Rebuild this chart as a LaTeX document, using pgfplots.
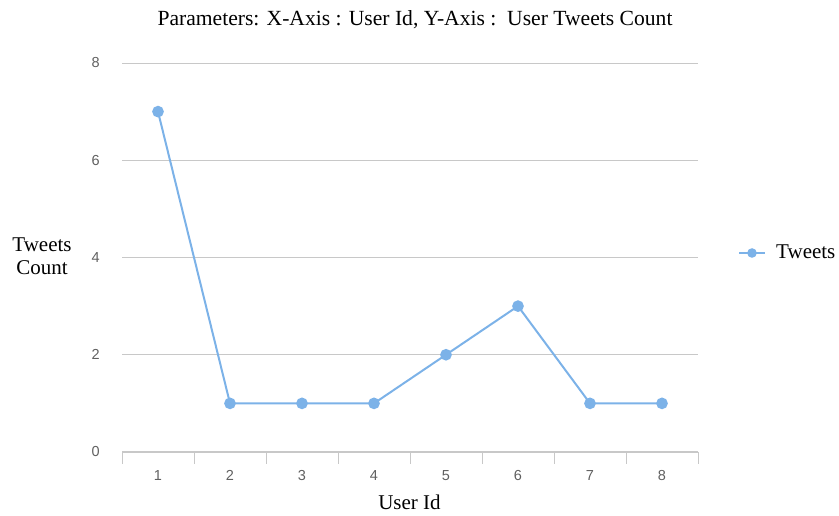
\documentclass[border=0pt]{standalone}
\usepackage{fontspec}
\setmainfont{Liberation Serif}
\newfontfamily\arial{Liberation Sans}
\usepackage{pgfplots}
\pgfplotsset{compat=1.18}
\definecolor{lineblue}{HTML}{7CB2E8}
\definecolor{gridgray}{HTML}{C8C8C8}
\definecolor{ticktext}{HTML}{606060}
\begin{document}
\begin{tikzpicture}[x=1bp,y=1bp]
\path[use as bounding box] (0,0) rectangle (839,516);
\begin{axis}[
  at={(122bp,64bp)}, anchor=south west,
  scale only axis, width=576bp, height=389bp,
  xmin=0.5, xmax=8.5, ymin=0, ymax=8,
  xtick={1,...,8},
  minor xtick={0.5,1.5,...,8.5},
  ytick={0,2,4,6,8},
  axis x line*=bottom, axis y line*=left,
  x axis line style={draw=gridgray, line width=1bp},
  y axis line style={draw=none},
  major tick length=0pt,
  minor tick length=12bp,
  tick align=outside,
  minor tick style={draw=gridgray, line width=1bp},
  ymajorgrids,
  grid style={draw=gridgray, line width=0.8bp},
  /pgf/number format/assume math mode=true,
  ticklabel style={font=\arial\fontsize{14.5bp}{17bp}\selectfont, text=ticktext, inner sep=0pt},
  xticklabel style={anchor=base, yshift=-29bp},
  yticklabel style={anchor=east, xshift=-22bp},
  clip=false,
]
\addplot[color=lineblue, line width=2bp, mark=*, mark size=4.8bp, mark options={fill=lineblue, draw=lineblue}]
  coordinates {(1,7) (2,1) (3,1) (4,1) (5,2) (6,3) (7,1) (8,1)};
\end{axis}
\node[font=\fontsize{21.6bp}{24bp}\selectfont, anchor=base, inner sep=0pt] at (415,490) {Parameters: X-Axis : User Id, Y-Axis :\ \ User Tweets Count};
\node[font=\fontsize{21bp}{24bp}\selectfont, anchor=base, inner sep=0pt] at (409.5,6) {User Id};
\node[font=\fontsize{21bp}{23bp}\selectfont, align=center, inner sep=0pt] at (42,260) {Tweets\\Count};
\draw[lineblue, line width=2bp] (739,263) -- (765,263);
\fill[lineblue] (752,263) circle (4.8bp);
\node[font=\fontsize{21bp}{24bp}\selectfont, anchor=base west, inner sep=0pt] at (776,257) {Tweets};
\end{tikzpicture}
\end{document}
